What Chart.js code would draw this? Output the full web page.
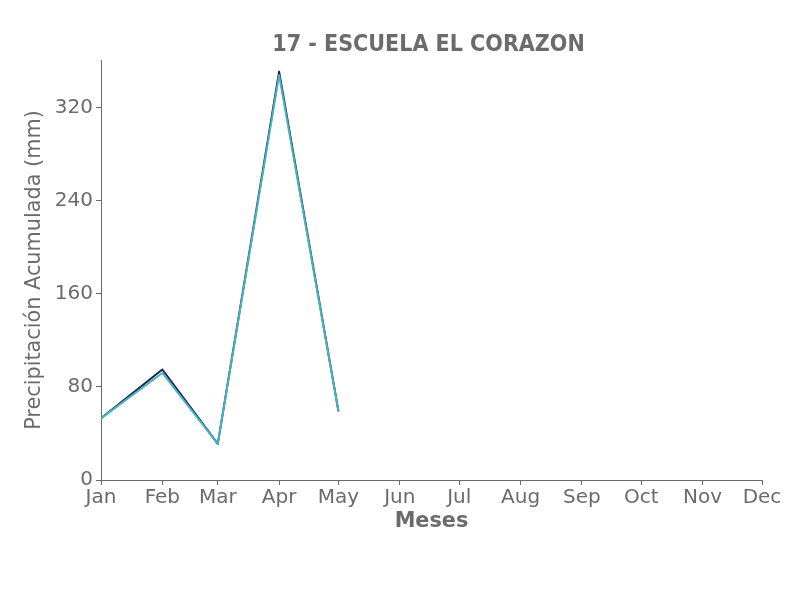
<!DOCTYPE html>
<html>
<head>
<meta charset="utf-8">
<script src="https://cdn.jsdelivr.net/npm/chart.js"></script>
<style>
  html, body { margin: 0; padding: 0; background: #ffffff; }
  #wrap { width: 806px; height: 600px; }
</style>
</head>
<body>
<div id="wrap"><canvas id="myChart" width="806" height="600"></canvas></div>
<script>
// month labels and the day-of-year where each month starts
const monthLabels = ['Jan', 'Feb', 'Mar', 'Apr', 'May', 'Jun', 'Jul', 'Aug', 'Sep', 'Oct', 'Nov', 'Dec'];
const monthStarts = [0, 31, 59, 90, 120, 151, 181, 212, 243, 273, 304, 334];

// values (mm)
const seriesDark = [53, 95, 31, 351, 59];
const seriesCyan = [53, 92, 31, 348, 59];
const yTicks = [0, 80, 160, 240, 320];

const chartTitle = '17 - ESCUELA EL CORAZON';
const textColor = '#6b6b6b';
const axisColor = '#6b6b6b';

function toPoints(values) {
  return values.map((v, i) => ({ x: monthStarts[i], y: v }));
}

// title centred over the plot area, like the original
const titlePlugin = {
  id: 'plotTitle',
  afterDraw(chart) {
    const c = chart.ctx;
    const area = chart.chartArea;
    c.save();
    c.fillStyle = textColor;
    c.font = 'bold 23px "DejaVu Sans Condensed", "DejaVu Sans"';
    c.textAlign = 'center';
    c.textBaseline = 'middle';
    c.fillText(chartTitle, (area.left + area.right) / 2 - 3, 45);
    c.restore();
  }
};

const ctx = document.getElementById('myChart').getContext('2d');
const chart = new Chart(ctx, {
  type: 'line',
  data: {
    datasets: [
      {
        label: 'B',
        data: toPoints(seriesCyan),
        borderColor: '#48b3c3',
        borderWidth: 2,
        borderJoinStyle: 'round',
        pointRadius: 0,
        tension: 0
      },
      {
        label: 'A',
        data: toPoints(seriesDark),
        borderColor: '#1c2248',
        borderWidth: 2,
        borderJoinStyle: 'round',
        pointRadius: 0,
        tension: 0
      }
    ]
  },
  plugins: [titlePlugin],
  options: {
    responsive: false,
    animation: false,
    layout: { padding: { left: 0, right: 44, top: 60, bottom: 0 } },
    plugins: {
      legend: { display: false },
      tooltip: { enabled: false },
      title: { display: false }
    },
    scales: {
      x: {
        type: 'linear',
        min: monthStarts[0],
        max: monthStarts[monthStarts.length - 1],
        afterBuildTicks: (scale) => {
          scale.ticks = monthStarts.map((v) => ({ value: v }));
        },
        afterFit: (scale) => { scale.height = 120; },
        ticks: {
          autoSkip: false,
          maxRotation: 0,
          color: textColor,
          padding: 1,
          font: { family: 'DejaVu Sans', size: 20 },
          callback: (value) => {
            const i = monthStarts.indexOf(value);
            return i >= 0 ? monthLabels[i] : '';
          }
        },
        grid: { drawOnChartArea: false, drawTicks: true, tickLength: 5, color: axisColor },
        border: { display: true, color: axisColor, width: 1 },
        title: {
          display: true,
          text: 'Meses',
          color: textColor,
          font: { family: 'DejaVu Sans', size: 20.8, weight: 'bold' },
          padding: { top: 0, bottom: 66 }
        }
      },
      y: {
        min: 0,
        max: 361,
        afterBuildTicks: (scale) => {
          scale.ticks = yTicks.map((v) => ({ value: v }));
        },
        afterFit: (scale) => { scale.width = 101; },
        ticks: {
          color: textColor,
          padding: 3,
          font: { family: 'DejaVu Sans', size: 20 }
        },
        grid: { drawOnChartArea: false, drawTicks: true, tickLength: 5, color: axisColor },
        border: { display: true, color: axisColor, width: 1 },
        title: {
          display: true,
          text: 'Precipitación Acumulada (mm)',
          color: textColor,
          font: { family: 'DejaVu Sans', size: 20.8 },
          padding: { top: 22, bottom: 0 }
        }
      }
    }
  }
});
</script>
</body>
</html>
